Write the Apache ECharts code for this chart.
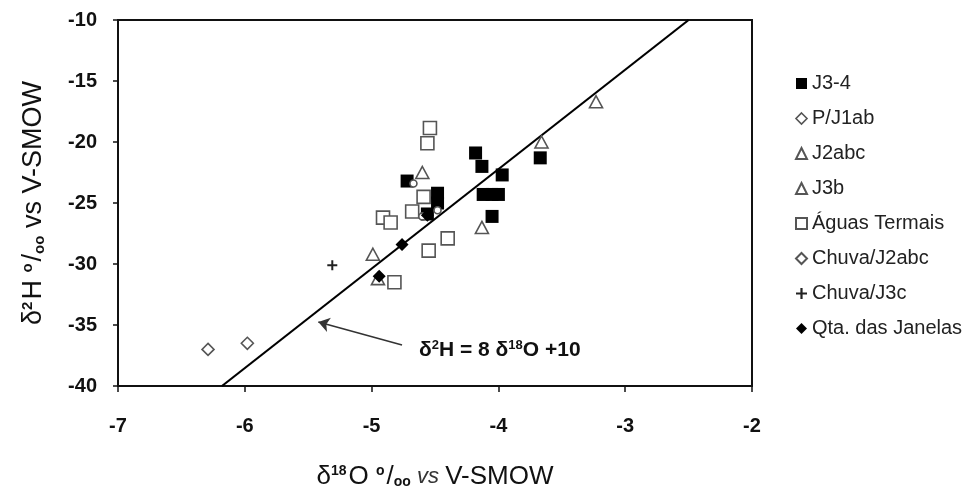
<!DOCTYPE html>
<html>
<head>
<meta charset="utf-8">
<script src="https://cdn.jsdelivr.net/npm/echarts@6/dist/echarts.min.js"></script>
<style>
  html, body { margin: 0; padding: 0; background: #fff; }
  #chart { width: 976px; height: 495px; }
</style>
</head>
<body>
<div id="chart"></div>
<script>
// pontos (δ18O, δ2H)
const j34 = [[-4.18, -20.9], [-4.13, -22.0], [-3.97, -22.7], [-3.67, -21.3], [-4.72, -23.2],
  [-4.12, -24.3], [-4.05, -24.3], [-4.0, -24.3], [-4.48, -24.2], [-4.48, -25.0],
  [-4.56, -25.9], [-4.05, -26.1]];
const pj1ab = [[-4.67, -23.4], [-4.60, -26.1], [-4.48, -25.6]];
const j2abc = [[-4.60, -22.5], [-4.13, -27.0], [-4.99, -29.2]];
const j3b = [[-3.66, -20.0], [-3.23, -16.7], [-4.95, -31.2]];
const aguas = [[-4.54, -18.85], [-4.56, -20.1], [-4.59, -24.5], [-4.68, -25.7], [-4.91, -26.2],
  [-4.85, -26.6], [-4.40, -27.9], [-4.55, -28.9], [-4.82, -31.5]];
const chuvaJ2abc = [[-6.29, -37.0], [-5.98, -36.5]];
const chuvaJ3c = [[-5.31, -30.1]];
const qta = [[-4.76, -28.4], [-4.94, -31.0], [-4.56, -26.0]];
// recta meteórica
const lmm = [[-6.18, -40], [-2.5, -10]];
const arrowFrom = [-4.76, -36.64];
const arrowTo = [-5.42, -34.75];
const eqPos = [-4.63, -37.05];

const xTicks = { min: -7, max: -2, step: 1 };
const yTicks = { min: -40, max: -10, step: 5 };

const open = { color: '#fff', borderColor: '#555', borderWidth: 1.6, opacity: 1 };
const filled = { color: '#000', opacity: 1 };
const plus = 'path://M4,0h2v4h4v2h-4v4h-2v-4h-4v-2h4z';

const chart = echarts.init(document.getElementById('chart'));
chart.setOption({
  animation: false,
  textStyle: { fontFamily: 'Liberation Sans, Arial, sans-serif' },
  grid: {
    left: 118, right: 224, top: 20, bottom: 109,
    show: true, borderColor: '#111', borderWidth: 2, backgroundColor: 'transparent'
  },
  legend: {
    orient: 'vertical',
    left: 790,
    top: 68,
    itemGap: 14,
    itemWidth: 11,
    itemHeight: 11,
    textStyle: { fontSize: 20, color: '#222', lineHeight: 21 },
    data: [
      { name: 'J3-4' },
      { name: 'P/J1ab', icon: 'diamond', itemStyle: open },
      { name: 'J2abc' },
      { name: 'J3b' },
      { name: 'Águas Termais' },
      { name: 'Chuva/J2abc' },
      { name: 'Chuva/J3c' },
      { name: 'Qta. das Janelas' }
    ]
  },
  xAxis: {
    type: 'value',
    min: xTicks.min, max: xTicks.max, interval: xTicks.step,
    splitLine: { show: false },
    axisLine: { onZero: false, lineStyle: { color: '#111', width: 2 } },
    axisTick: { length: 6, lineStyle: { color: '#111', width: 1.5 } },
    axisLabel: { margin: 30, fontSize: 20, fontWeight: 'bold', color: '#111' },
    name: '{n|δ}{s|18}{n|O }{s|o}{n|/}{b|oo}{i| vs }{n|V-SMOW}',
    nameLocation: 'middle',
    nameGap: 78,
    nameTextStyle: {
      rich: {
        n: { fontSize: 26, color: '#111' },
        s: { fontSize: 14, color: '#111', fontWeight: 'bold', padding: [0, 2, 12, 0] },
        b: { fontSize: 14, color: '#111', fontWeight: 'bold', padding: [10, 0, 0, 0] },
        i: { fontSize: 22, color: '#333', fontStyle: 'italic' }
      }
    }
  },
  yAxis: {
    type: 'value',
    min: yTicks.min, max: yTicks.max, interval: yTicks.step,
    splitLine: { show: false },
    axisLine: { onZero: false, lineStyle: { color: '#111', width: 2 } },
    axisTick: { length: 5, lineStyle: { color: '#111', width: 1.5 } },
    axisLabel: { margin: 21, fontSize: 20, fontWeight: 'bold', color: '#111' },
    name: '{n|δ}{s|2}{n|H }{s|o}{n|/}{b|oo}{n| vs }{n|V-SMOW}',
    nameLocation: 'middle',
    nameGap: 70,
    nameTextStyle: {
      rich: {
        n: { fontSize: 27, color: '#111' },
        s: { fontSize: 15, color: '#111', fontWeight: 'bold', padding: [0, 2, 13, 0] },
        b: { fontSize: 15, color: '#111', fontWeight: 'bold', padding: [11, 0, 0, 0] }
      }
    }
  },
  series: [
    {
      name: 'LMM', type: 'line', data: lmm, symbol: 'none',
      lineStyle: { color: '#000', width: 2.2 }, z: 1,
      markLine: {
        silent: true,
        symbol: ['none', 'arrow'],
        symbolSize: 11,
        label: { show: false },
        lineStyle: { color: '#333', width: 1.6, type: 'solid' },
        data: [[{ coord: arrowFrom }, { coord: arrowTo }]]
      }
    },
    {
      name: 'eq', type: 'scatter', data: [eqPos], symbolSize: 1, silent: true,
      itemStyle: { color: 'rgba(0,0,0,0)', opacity: 1 },
      label: {
        show: true, position: 'right', distance: 0, color: '#111',
        formatter: '{b|δ}{s|2}{b|H = 8 δ}{s|18}{b|O +10}',
        rich: {
          b: { fontSize: 21, fontWeight: 'bold', color: '#111' },
          s: { fontSize: 13, fontWeight: 'bold', color: '#111', padding: [0, 0, 10, 0] }
        }
      }
    },
    { name: 'Águas Termais', type: 'scatter', data: aguas, symbol: 'rect', symbolSize: 13, itemStyle: open },
    { name: 'J3-4', type: 'scatter', data: j34, symbol: 'rect', symbolSize: 13, itemStyle: filled },
    { name: 'P/J1ab', type: 'scatter', data: pj1ab, symbol: 'circle', symbolSize: 7, itemStyle: open },
    { name: 'J2abc', type: 'scatter', data: j2abc, symbol: 'triangle', symbolSize: [13, 12], itemStyle: open },
    { name: 'J3b', type: 'scatter', data: j3b, symbol: 'triangle', symbolSize: [13, 12], itemStyle: open },
    { name: 'Chuva/J2abc', type: 'scatter', data: chuvaJ2abc, symbol: 'diamond', symbolSize: 12, itemStyle: open },
    { name: 'Chuva/J3c', type: 'scatter', data: chuvaJ3c, symbol: plus, symbolSize: 10, itemStyle: { color: '#222', opacity: 1 } },
    { name: 'Qta. das Janelas', type: 'scatter', data: qta, symbol: 'diamond', symbolSize: 13, itemStyle: filled }
  ]
});
</script>
</body>
</html>
